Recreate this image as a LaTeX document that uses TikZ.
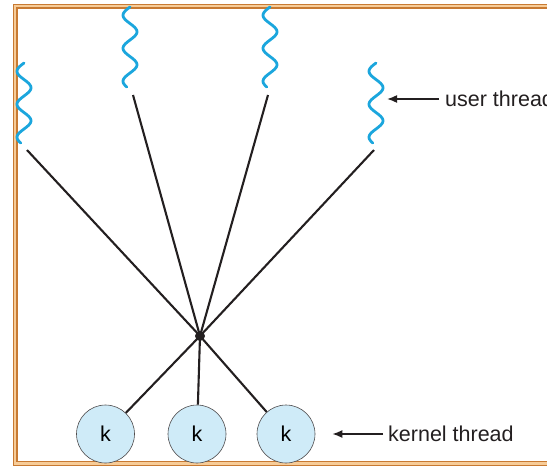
\documentclass[tikz,border=0pt]{standalone}
\usepackage{fontspec}
\setmainfont{Liberation Sans}
\usepackage{tikz}
\usetikzlibrary{arrows,arrows.meta}
\usetikzlibrary{positioning}

\definecolor{framebrown}{HTML}{C87A32}
\definecolor{framepeach}{HTML}{F7CC98}
\definecolor{threadblue}{HTML}{1BA6DD}
\definecolor{kernelfill}{HTML}{CFEBF8}
\definecolor{inkblack}{HTML}{231F20}

\begin{document}
\begin{tikzpicture}[x=1pt,y=-1pt,
		wave/.style={line width=2.8pt, color=threadblue, line cap=round, smooth, samples=60, variable=\t, domain=0:80},
		link/.style={line width=2.1pt, color=inkblack},
		kthread/.style={circle, draw=inkblack!80, line width=0.6pt, fill=kernelfill, minimum size=58pt, inner sep=0pt, font=\fontsize{21.5}{24}\selectfont},
		tag/.style={anchor=west, inner sep=0pt, font=\fontsize{21.5}{24}\selectfont, text=inkblack},
		pointer/.style={-{Latex[length=10pt,width=8pt]}, line width=1.6pt, color=inkblack}]
	
	\useasboundingbox (0,0) rectangle (547,469);
	\clip (0,0) rectangle (547,469);
	
	% frame
	\draw[color=framebrown, line width=1.3pt, double=framepeach, double distance=2.4pt] (15,6) rectangle (580,463.5);
	
	% user threads
	\def\amp{7}
	\draw[wave] plot ({24-\amp*sin(10.909*\t)},{63+\t});
	\draw[wave] plot ({130-\amp*sin(10.909*\t)},{7+\t});
	\draw[wave] plot ({270-\amp*sin(10.909*\t)},{7+\t});
	\draw[wave] plot ({376-\amp*sin(10.909*\t)},{63+\t});
	
	\coordinate (u1) at (27,150);
	\coordinate (u2) at (133,95);
	\coordinate (u3) at (268,95);
	\coordinate (u4) at (374,150);
	
	% many-to-many hub
	\node[circle, fill=inkblack, minimum size=10pt, inner sep=0pt] (hub) at (200,336) {};
	
	% kernel threads
	\node[kthread] (k1) at (105.5,434) {k};
	\node[kthread] (k2) at (197,434) {k};
	\node[kthread] (k3) at (286,434) {k};
	
	\foreach \u in {u1,u2,u3,u4}
		\draw[link] (\u) -- (hub.center);
	\foreach \k in {k1,k2,k3}
		\draw[link] (hub.center) -- (\k);
	
	% labels
	\node[tag] (ulabel) at (445,99) {user thread};
	\coordinate (utip) at (387,99);
	\draw[pointer] ([xshift=-6pt]ulabel.west) -- (utip);
	
	\node[tag] (klabel) at (388,434) {kernel thread};
	\draw[pointer] ([xshift=-5pt]klabel.west) -- ([xshift=17pt]k3.east);
\end{tikzpicture}
\end{document}
